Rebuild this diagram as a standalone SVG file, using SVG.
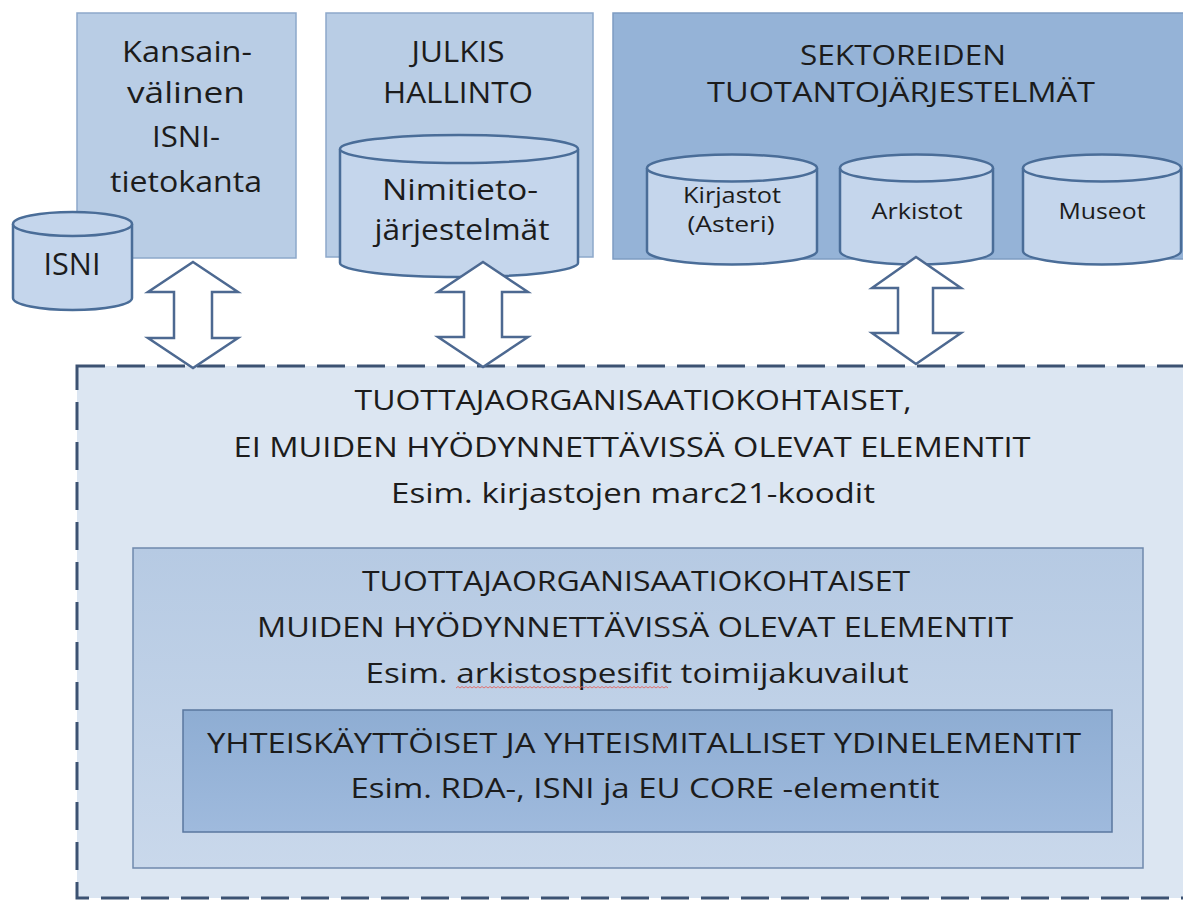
<svg xmlns="http://www.w3.org/2000/svg" width="1183" height="901" viewBox="0 0 1183 901">
<style>
text{font-family:"Open Sans","Liberation Sans",sans-serif;fill:#1c1c1c;text-anchor:middle}
.t30{font-size:29px}
.t28{font-size:28px}
.t21{font-size:21px}
.box{fill:#b9cde5;stroke:#8da8ca;stroke-width:1.5}
.box3{fill:#95b3d7;stroke:#7e9cc2;stroke-width:1.5}
.cyl{fill:#c5d6ec;stroke:#4a6d98;stroke-width:2.5}
.arrow{fill:#ffffff;stroke:#4d6991;stroke-width:2.5;stroke-linejoin:miter}
</style>
<defs>
<linearGradient id="gMid" x1="0" y1="0" x2="0" y2="1">
<stop offset="0" stop-color="#b6cae3"/>
<stop offset="1" stop-color="#c9d8eb"/>
</linearGradient>
<linearGradient id="gIn" x1="0" y1="0" x2="0" y2="1">
<stop offset="0" stop-color="#8eadd3"/>
<stop offset="1" stop-color="#9fbadd"/>
</linearGradient>
</defs>
<rect width="1183" height="901" fill="#ffffff"/>

<g id="outer">
<rect x="77" y="366" width="1140" height="532" fill="#dce6f2" stroke="#3c5272" stroke-width="3" stroke-dasharray="28 12"/>
<text class="t28" x="633" y="410" textLength="557" lengthAdjust="spacingAndGlyphs">TUOTTAJAORGANISAATIOKOHTAISET,</text>
<text class="t28" x="632" y="457" textLength="797" lengthAdjust="spacingAndGlyphs">EI MUIDEN HYÖDYNNETTÄVISSÄ OLEVAT ELEMENTIT</text>
<text class="t28" x="633" y="503" textLength="484" lengthAdjust="spacingAndGlyphs">Esim. kirjastojen marc21-koodit</text>
</g>

<g id="middle">
<rect x="133" y="548" width="1010" height="320" fill="url(#gMid)" stroke="#6f89ad" stroke-width="1.5"/>
<text class="t28" x="636" y="591" textLength="548" lengthAdjust="spacingAndGlyphs">TUOTTAJAORGANISAATIOKOHTAISET</text>
<text class="t28" x="635" y="637" textLength="756" lengthAdjust="spacingAndGlyphs">MUIDEN HYÖDYNNETTÄVISSÄ OLEVAT ELEMENTIT</text>
<text class="t28" x="637" y="683" textLength="543" lengthAdjust="spacingAndGlyphs">Esim. arkistospesifit toimijakuvailut</text>
<path d="M456,688 l2,-1.5 l2,1.5 l2,-1.5 l2,1.5 l2,-1.5 l2,1.5 l2,-1.5 l2,1.5 l2,-1.5 l2,1.5 l2,-1.5 l2,1.5 l2,-1.5 l2,1.5 l2,-1.5 l2,1.5 l2,-1.5 l2,1.5 l2,-1.5 l2,1.5 l2,-1.5 l2,1.5 l2,-1.5 l2,1.5 l2,-1.5 l2,1.5 l2,-1.5 l2,1.5 l2,-1.5 l2,1.5 l2,-1.5 l2,1.5 l2,-1.5 l2,1.5 l2,-1.5 l2,1.5 l2,-1.5 l2,1.5 l2,-1.5 l2,1.5 l2,-1.5 l2,1.5 l2,-1.5 l2,1.5 l2,-1.5 l2,1.5 l2,-1.5 l2,1.5 l2,-1.5 l2,1.5 l2,-1.5 l2,1.5 l2,-1.5 l2,1.5 l2,-1.5 l2,1.5 l2,-1.5 l2,1.5 l2,-1.5 l2,1.5 l2,-1.5 l2,1.5 l2,-1.5 l2,1.5 l2,-1.5 l2,1.5 l2,-1.5 l2,1.5 l2,-1.5 l2,1.5 l2,-1.5 l2,1.5 l2,-1.5 l2,1.5 l2,-1.5 l2,1.5 l2,-1.5 l2,1.5 l2,-1.5 l2,1.5 l2,-1.5 l2,1.5 l2,-1.5 l2,1.5 l2,-1.5 l2,1.5 l2,-1.5 l2,1.5 l2,-1.5 l2,1.5 l2,-1.5 l2,1.5 l2,-1.5 l2,1.5 l2,-1.5 l2,1.5 l2,-1.5 l2,1.5 l2,-1.5 l2,1.5 l2,-1.5 l2,1.5 l2,-1.5 l2,1.5 l2,-1.5 l2,1.5" fill="none" stroke="#e07070" stroke-width="1"/>
</g>

<g id="inner">
<rect x="183" y="710" width="929" height="122" fill="url(#gIn)" stroke="#5a779f" stroke-width="1.5"/>
<text class="t28" x="644" y="753" textLength="874" lengthAdjust="spacingAndGlyphs">YHTEISKÄYTTÖISET  JA YHTEISMITALLISET YDINELEMENTIT</text>
<text class="t28" x="645" y="798" textLength="589" lengthAdjust="spacingAndGlyphs">Esim. RDA-, ISNI ja EU CORE -elementit</text>
</g>

<g id="kansainvalinen">
<rect class="box" x="77" y="13" width="219" height="245"/>
<text class="t30" x="187" y="62" textLength="130" lengthAdjust="spacingAndGlyphs">Kansain-</text>
<text class="t30" x="186" y="103" textLength="118" lengthAdjust="spacingAndGlyphs">välinen</text>
<text class="t30" x="186" y="147" textLength="68" lengthAdjust="spacingAndGlyphs">ISNI-</text>
<text class="t30" x="186" y="192" textLength="152" lengthAdjust="spacingAndGlyphs">tietokanta</text>
</g>

<g id="isni">
<path class="cyl" d="M13,224 L13,298 A59.5,12 0 0 0 132,298 L132,224"/>
<ellipse class="cyl" cx="72.5" cy="224" rx="59.5" ry="12"/>
<text x="72" y="275" font-size="31px" textLength="57" lengthAdjust="spacingAndGlyphs">ISNI</text>
</g>

<g id="julkishallinto">
<rect class="box" x="326" y="13" width="267" height="244"/>
<text class="t30" x="458" y="62" textLength="93" lengthAdjust="spacingAndGlyphs">JULKIS</text>
<text class="t30" x="458" y="103" textLength="150" lengthAdjust="spacingAndGlyphs">HALLINTO</text>
</g>

<g id="nimitieto">
<path class="cyl" d="M340,149 L340,263 A119,14 0 0 0 578,263 L578,149"/>
<ellipse class="cyl" cx="459" cy="149" rx="119" ry="14"/>
<text class="t30" x="460" y="200" textLength="156" lengthAdjust="spacingAndGlyphs">Nimitieto-</text>
<text class="t30" x="462" y="240" textLength="175" lengthAdjust="spacingAndGlyphs">järjestelmät</text>
</g>

<g id="sektoreiden">
<rect class="box3" x="613" y="13" width="600" height="246"/>
<text class="t28" x="903" y="65" textLength="206" lengthAdjust="spacingAndGlyphs">SEKTOREIDEN</text>
<text class="t28" x="901" y="102" textLength="388" lengthAdjust="spacingAndGlyphs">TUOTANTOJÄRJESTELMÄT</text>
</g>

<g id="kirjastot">
<path class="cyl" d="M647,168 L647,251 A85,13.5 0 0 0 817,251 L817,168"/>
<ellipse class="cyl" cx="732" cy="168" rx="85" ry="13.5"/>
<text class="t21" x="732" y="203" textLength="98" lengthAdjust="spacingAndGlyphs">Kirjastot</text>
<text class="t21" x="731" y="232" textLength="87" lengthAdjust="spacingAndGlyphs">(Asteri)</text>
</g>

<g id="arkistot">
<path class="cyl" d="M840,168 L840,251 A76.5,13.5 0 0 0 993,251 L993,168"/>
<ellipse class="cyl" cx="916.5" cy="168" rx="76.5" ry="13.5"/>
<text class="t21" x="917" y="219" textLength="91" lengthAdjust="spacingAndGlyphs">Arkistot</text>
</g>

<g id="museot">
<path class="cyl" d="M1023,168 L1023,251 A79,13.5 0 0 0 1181,251 L1181,168"/>
<ellipse class="cyl" cx="1102" cy="168" rx="79" ry="13.5"/>
<text class="t21" x="1102" y="219" textLength="87" lengthAdjust="spacingAndGlyphs">Museot</text>
</g>

<g id="connectors">
<path class="arrow" d="M193,262 L238,292 L212,292 L212,338 L238,338 L193,368 L148,338 L174,338 L174,292 L148,292 Z"/>
<path class="arrow" d="M483,262 L528,292 L502,292 L502,337 L528,337 L483,367 L438,337 L464,337 L464,292 L438,292 Z"/>
<path class="arrow" d="M916,257 L961,288 L933,288 L933,333 L961,333 L916,364 L872,333 L898,333 L898,288 L872,288 Z"/>
</g>
</svg>
